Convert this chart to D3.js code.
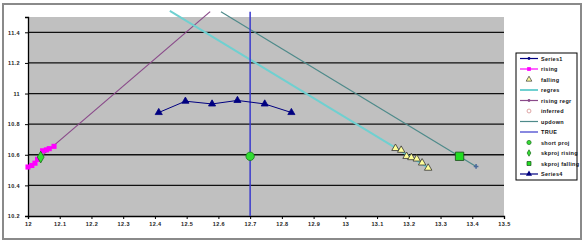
<!DOCTYPE html>
<html>
<head>
<meta charset="utf-8">
<script src="https://cdn.jsdelivr.net/npm/d3@7"></script>
<style>
  body { margin: 0; background: #fff; }
  text { font-family: "Liberation Sans", Arial, sans-serif; font-weight: bold; }
</style>
</head>
<body>
<svg id="chart"></svg>
<script>
'use strict'

var WIDTH = 586,
	HEIGHT = 244;

// tick values
var xTicks = [12, 12.1, 12.2, 12.3, 12.4, 12.5, 12.6, 12.7, 12.8, 12.9, 13, 13.1, 13.2, 13.3, 13.4, 13.5];
var yTicks = [10.2, 10.4, 10.6, 10.8, 11, 11.2, 11.4];

// series
var risingX = [12.0, 12.012, 12.022, 12.03, 12.046, 12.058, 12.067, 12.082];
var risingY = [10.52, 10.53, 10.545, 10.57, 10.626, 10.632, 10.64, 10.655];

var fallingX = [13.158, 13.176, 13.193, 13.208, 13.225, 13.242, 13.261];
var fallingY = [10.642, 10.630, 10.590, 10.582, 10.573, 10.547, 10.513];

var regresX = [12.447, 13.261];
var regresY = [11.54, 10.516];

var risingRegrX = [12.0, 12.574];
var risingRegrY = [10.516, 11.535];

var updownX = [12.608, 13.412];
var updownY = [11.535, 10.524];

var trueX = [12.7, 12.7];
var trueY = [10.2, 11.535];

var shortProjX = [12.7];
var shortProjY = [10.59];

var skRisingX = [12.04];
var skRisingY = [10.585];

var skFallingX = [13.36];
var skFallingY = [10.59];

var series4X = [12.412, 12.496, 12.58, 12.66, 12.746, 12.83];
var series4Y = [10.876, 10.95, 10.932, 10.955, 10.932, 10.876];

var legendNames = ["Series1", "rising", "falling", "regres", "rising regr", "inferred",
	"updown", "TRUE", "short proj", "skproj rising", "skproj falling", "Series4"];

var plot = { left: 28, top: 17, right: 504, bottom: 216 };

var svg = d3.select("#chart")
	.attr("width", WIDTH)
	.attr("height", HEIGHT);

var x = d3.scaleLinear().domain([12, 13.5]).range([plot.left, plot.right]);
var y = d3.scaleLinear().domain([10.2, 11.5]).range([plot.bottom, plot.top]);

function zip(xs, ys) {
	return xs.map(function(v, i) { return [v, ys[i]]; });
}

var line = d3.line()
	.x(function(d) { return x(d[0]); })
	.y(function(d) { return y(d[1]); });

// chart frame
svg.append("rect")
	.attr("x", 3).attr("y", 4)
	.attr("width", 578).attr("height", 235)
	.style("fill", "#fff")
	.style("stroke", "#8a8a8a")
	.style("stroke-width", 2);

// plot area
svg.append("rect")
	.attr("x", plot.left).attr("y", plot.top)
	.attr("width", plot.right - plot.left).attr("height", plot.bottom - plot.top)
	.style("fill", "#c0c0c0");

// gridlines
svg.append("g")
	.selectAll("line")
	.data(yTicks.slice(1))
	.enter().append("line")
	.attr("x1", plot.left).attr("x2", plot.right)
	.attr("y1", function(d) { return y(d); })
	.attr("y2", function(d) { return y(d); })
	.style("stroke", "#111")
	.style("stroke-width", 1.3);

// axes
var xAxis = svg.append("g")
	.attr("transform", "translate(0," + plot.bottom + ")")
	.call(d3.axisBottom(x).tickValues(xTicks).tickSize(3).tickPadding(3)
		.tickFormat(function(d) { return d3.format("")(+d.toFixed(1)); }));

var yAxis = svg.append("g")
	.attr("transform", "translate(" + plot.left + ",0)")
	.call(d3.axisLeft(y).tickValues(yTicks).tickSize(3).tickPadding(5)
		.tickFormat(function(d) { return d3.format("")(+d.toFixed(1)); }));

[xAxis, yAxis].forEach(function(a) {
	a.select(".domain").style("stroke", "#000").style("stroke-width", 1.3);
	a.selectAll(".tick line").style("stroke", "#000");
	a.selectAll("text")
		.style("font-size", "5.5px")
		.style("font-weight", "bold")
		.style("fill", "#222")
		.style("letter-spacing", "0.4px");
});

// lines
svg.append("path").datum(zip(risingRegrX, risingRegrY))
	.attr("d", line).style("fill", "none")
	.style("stroke", "#8a4a8a").style("stroke-width", 1.2);

svg.append("path").datum(zip(regresX, regresY))
	.attr("d", line).style("fill", "none")
	.style("stroke", "#6fd0d0").style("stroke-width", 2);

svg.append("path").datum(zip(updownX, updownY))
	.attr("d", line).style("fill", "none")
	.style("stroke", "#4e8a8a").style("stroke-width", 1.2);

svg.append("path").datum(zip(trueX, trueY))
	.attr("d", line).style("fill", "none")
	.style("stroke", "#3a3acc").style("stroke-width", 1.5);

// small end marker on updown
svg.append("path")
	.attr("d", d3.symbol(d3.symbolCross, 12)())
	.attr("transform", "translate(" + x(updownX[1]) + "," + y(updownY[1]) + ")")
	.style("fill", "#4a6a9a");

svg.append("path").datum(zip(series4X, series4Y))
	.attr("d", line).style("fill", "none")
	.style("stroke", "#000080").style("stroke-width", 1);

// markers
function markers(xs, ys, type, size, fill, stroke) {
	svg.append("g")
		.selectAll("path")
		.data(zip(xs, ys))
		.enter().append("path")
		.attr("d", d3.symbol(type, size)())
		.attr("transform", function(d) { return "translate(" + x(d[0]) + "," + y(d[1]) + ")"; })
		.style("fill", fill)
		.style("stroke", stroke)
		.style("stroke-width", stroke == "none" ? 0 : 0.8);
}

markers(risingX, risingY, d3.symbolSquare, 26, "#ff00ff", "none");
markers(fallingX, fallingY, d3.symbolTriangle, 24, "#ffff99", "#333");
markers(skRisingX, skRisingY, d3.symbolDiamond, 40, "#33dd33", "#1a6a1a");
markers(shortProjX, shortProjY, d3.symbolCircle, 55, "#33dd33", "#1a7a1a");
markers(skFallingX, skFallingY, d3.symbolSquare, 70, "#22dd22", "#1a4a1a");
markers(series4X, series4Y, d3.symbolTriangle, 22, "#000080", "#000080");

// legend
var legendStyles = [
	{ line: "#000080", sym: d3.symbolCircle, size: 6, fill: "#000080" },
	{ line: "#ff00ff", sym: d3.symbolSquare, size: 14, fill: "#ff00ff" },
	{ line: null, sym: d3.symbolTriangle, size: 14, fill: "#ffff99", stroke: "#333" },
	{ line: "#6fd0d0", width: 2 },
	{ line: "#8a4a8a", sym: d3.symbolCircle, size: 6, fill: "#8a4a8a" },
	{ line: null, sym: d3.symbolCircle, size: 12, fill: "#fff", stroke: "#d08080" },
	{ line: "#4e8a8a" },
	{ line: "#3a3acc" },
	{ line: null, sym: d3.symbolCircle, size: 14, fill: "#33dd33", stroke: "#1a6a1a" },
	{ line: null, sym: d3.symbolDiamond, size: 12, fill: "#33dd33", stroke: "#1a6a1a" },
	{ line: null, sym: d3.symbolSquare, size: 16, fill: "#22dd22", stroke: "#1a4a1a" },
	{ line: "#000080", sym: d3.symbolTriangle, size: 16, fill: "#000080" }
];

var legend = svg.append("g");
legend.append("rect")
	.attr("x", 516).attr("y", 53)
	.attr("width", 61).attr("height", 127)
	.style("fill", "#fff")
	.style("stroke", "#000")
	.style("stroke-width", 1);

var item = legend.selectAll(".item")
	.data(legendNames)
	.enter().append("g")
	.attr("transform", function(d, i) { return "translate(520," + (58.5 + i * 10.5) + ")"; });

item.each(function(d, i) {
	var g = d3.select(this), s = legendStyles[i];
	if (s.line) {
		g.append("line").attr("x1", 0).attr("x2", 18)
			.style("stroke", s.line).style("stroke-width", s.width || 1.2);
	}
	if (s.sym) {
		g.append("path").attr("d", d3.symbol(s.sym, s.size)())
			.attr("transform", "translate(9,0)")
			.style("fill", s.fill)
			.style("stroke", s.stroke || "none")
			.style("stroke-width", 0.7);
	}
	g.append("text")
		.attr("x", 21).attr("y", 2)
		.text(d)
		.style("font-size", "5.5px")
		.style("letter-spacing", "0.3px")
		.style("fill", "#111");
});
</script>
</body>
</html>
